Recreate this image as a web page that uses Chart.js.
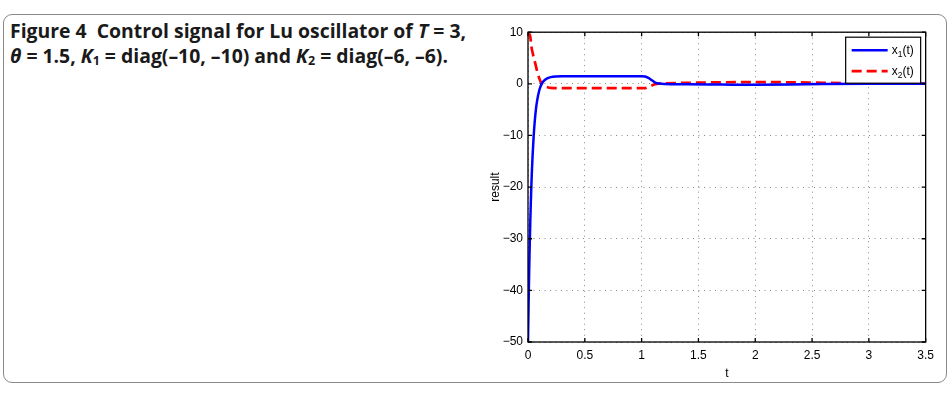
<!DOCTYPE html>
<html>
<head>
<meta charset="utf-8">
<script src="https://cdn.jsdelivr.net/npm/chart.js@4.4.0/dist/chart.umd.min.js"></script>
<style>
  body { margin: 0; background: #fff; width: 950px; height: 393px; overflow: hidden; }
  #frame { position: absolute; left: 3px; top: 14px; width: 942px; height: 367px;
           border: 1px solid #8a8a8a; border-radius: 9px; }
  #caption { position: absolute; left: 10px; top: 18px; width: 475px;
             font-family: "Open Sans", sans-serif; font-weight: 700; font-size: 19.4px;
             line-height: 25px; color: #1a1a1a; }
  #caption sub { font-size: 12.5px; vertical-align: -2px; line-height: 0; }
  #wrap { position: absolute; left: 470px; top: 20px; width: 470px; height: 365px; }
</style>
</head>
<body>
<div id="frame"></div>
<div id="caption">Figure 4&nbsp; Control signal for Lu oscillator of <i>T</i> = 3,<br><i>θ</i> = 1.5, <i>K</i><sub>1</sub> = diag(–10, –10) and <i>K</i><sub>2</sub> = diag(–6, –6).</div>
<div id="wrap"><canvas id="myChart" width="470" height="365"></canvas></div>
<script>
// time points and values
const t1 = [0, 0.005, 0.01, 0.015, 0.02, 0.025, 0.03, 0.035, 0.04, 0.05, 0.06, 0.07, 0.08, 0.1, 0.12, 0.15, 0.2, 0.3, 0.5, 0.8, 1.0, 1.03, 1.06, 1.09, 1.12, 1.15, 1.2, 1.4, 1.7, 2.0, 2.3, 2.6, 3.0, 3.5];
const x1 = [-50, -43, -36.7, -31.4, -26.8, -22.9, -19.5, -16.6, -14.1, -10.1, -7.1, -4.9, -3.3, -1.2, 0, 0.8, 1.3, 1.45, 1.45, 1.45, 1.45, 1.42, 1.15, 0.7, 0.25, 0.05, -0.05, -0.1, -0.15, -0.2, -0.15, -0.05, 0, 0];

const t2 = [0, 0.01, 0.02, 0.03, 0.045, 0.06, 0.08, 0.1, 0.12, 0.14, 0.17, 0.2, 0.3, 0.5, 0.8, 1.0, 1.03, 1.06, 1.09, 1.12, 1.15, 1.2, 1.4, 1.7, 2.0, 2.3, 2.6, 3.0, 3.5];
const x2 = [10, 9.7, 9.1, 7.2, 5.6, 4.3, 2.5, 1.0, 0.0, -0.4, -0.65, -0.8, -0.85, -0.85, -0.85, -0.85, -0.82, -0.6, -0.3, -0.05, 0.05, 0.1, 0.2, 0.3, 0.35, 0.3, 0.2, 0.1, 0.05];

const seriesNames = ['x1(t)', 'x2(t)'];
const xTicks = [0, 0.5, 1, 1.5, 2, 2.5, 3, 3.5];
const yTicks = [-50, -40, -30, -20, -10, 0, 10];

const fmt = (v) => String(v).replace('-', '\u2212');

// box around plot with inward ticks, like matlab
const boxPlugin = {
    id: 'box',
    afterDraw(chart) {
        const ctx = chart.ctx;
        const a = chart.chartArea;
        const xs = chart.scales.x, ys = chart.scales.y;
        ctx.save();
        ctx.strokeStyle = '#000';
        ctx.lineWidth = 1.3;
        ctx.strokeRect(a.left, a.top, a.right - a.left, a.bottom - a.top);
        ctx.beginPath();
        xTicks.forEach((v) => {
            const p = xs.getPixelForValue(v);
            ctx.moveTo(p, a.bottom); ctx.lineTo(p, a.bottom - 4);
            ctx.moveTo(p, a.top); ctx.lineTo(p, a.top + 4);
        });
        yTicks.forEach((v) => {
            const p = ys.getPixelForValue(v);
            ctx.moveTo(a.left, p); ctx.lineTo(a.left + 4, p);
            ctx.moveTo(a.right, p); ctx.lineTo(a.right - 4, p);
        });
        ctx.stroke();

        // legend box
        const L = a.right - 80, ly = a.top + 5, lw = 75, lh = 46;
        ctx.fillStyle = '#fff';
        ctx.fillRect(L, ly, lw, lh);
        ctx.lineWidth = 1.2;
        ctx.strokeRect(L, ly, lw, lh);
        chart.data.datasets.forEach((ds, i) => {
            const y = ly + 13 + i * 21;
            ctx.beginPath();
            ctx.strokeStyle = ds.borderColor;
            ctx.lineWidth = ds.borderWidth;
            ctx.setLineDash(ds.borderDash || []);
            ctx.moveTo(L + 6, y); ctx.lineTo(L + 42, y);
            ctx.stroke();
            ctx.setLineDash([]);
            ctx.fillStyle = '#000';
            ctx.textBaseline = 'middle';
            ctx.font = '12px "Liberation Sans"';
            let x = L + 46;
            const name = seriesNames[i];
            ctx.fillText(name[0], x, y);
            x += ctx.measureText(name[0]).width;
            ctx.font = '8.5px "Liberation Sans"';
            ctx.fillText(name[1], x, y + 4);
            x += ctx.measureText(name[1]).width;
            ctx.font = '12px "Liberation Sans"';
            ctx.fillText(name.slice(2), x, y);
        });
        ctx.restore();
    }
};

const ctx = document.getElementById('myChart');

new Chart(ctx, {
    type: 'line',
    data: {
        datasets: [{
            label: seriesNames[0],
            data: t1.map((v, i) => ({ x: v, y: x1[i] })),
            borderColor: '#0000ff',
            borderWidth: 2.5,
            pointRadius: 0,
            cubicInterpolationMode: 'monotone'
        }, {
            label: seriesNames[1],
            data: t2.map((v, i) => ({ x: v, y: x2[i] })),
            borderColor: '#ff0000',
            borderWidth: 2.7,
            borderDash: [10, 5],
            pointRadius: 0,
            cubicInterpolationMode: 'monotone'
        }]
    },
    options: {
        responsive: false,
        animation: false,
        layout: { padding: { top: 10, right: 13, left: 14, bottom: 0 } },
        plugins: { legend: { display: false }, tooltip: { enabled: false } },
        scales: {
            x: {
                type: 'linear',
                min: 0, max: 3.5,
                afterBuildTicks: (s) => { s.ticks = xTicks.map((v) => ({ value: v })); },
                afterFit: (s) => { s.height = 43; },
                grid: { color: '#888', lineWidth: 1, drawTicks: false },
                border: { display: false, dash: [1, 4.5] },
                ticks: { color: '#000', padding: 6, autoSkip: false, maxRotation: 0, font: { family: 'Liberation Sans', size: 12 }, callback: (v) => fmt(v) },
                title: { display: true, text: 't', color: '#000', padding: { top: 0 }, font: { family: 'Liberation Sans', size: 12 } }
            },
            y: {
                min: -50, max: 10,
                afterBuildTicks: (s) => { s.ticks = yTicks.map((v) => ({ value: v })); },
                afterFit: (s) => { s.width = 44; },
                grid: { color: '#888', lineWidth: 1, drawTicks: false },
                border: { display: false, dash: [1, 4.5] },
                ticks: { color: '#000', padding: 5, autoSkip: false, font: { family: 'Liberation Sans', size: 12 }, callback: (v) => fmt(v) },
                title: { display: true, text: 'result', color: '#000', padding: { bottom: 0 }, font: { family: 'Liberation Sans', size: 12 } }
            }
        }
    },
    plugins: [boxPlugin]
});
</script>
</body>
</html>
